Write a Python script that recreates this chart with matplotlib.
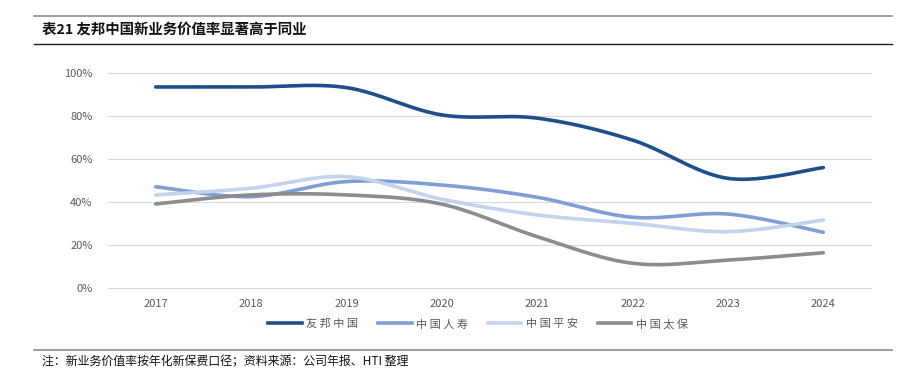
import numpy as np
import matplotlib
matplotlib.use("Agg")
import matplotlib.pyplot as plt
from matplotlib.lines import Line2D

plt.rcParams['font.family'] = ['Noto Sans CJK SC', 'DejaVu Sans']

years = ["2017", "2018", "2019", "2020", "2021", "2022", "2023", "2024"]
aia = [93.5, 93.5, 93.2, 80.5, 79.0, 68.8, 51.0, 56.0]
china_life = [47.1, 42.5, 49.5, 47.9, 42.2, 32.9, 34.4, 25.9]
ping_an = [43.3, 46.4, 51.8, 41.3, 34.0, 30.1, 26.2, 31.6]
cpic = [39.1, 43.3, 43.3, 39.0, 23.9, 11.5, 13.0, 16.4]

names = ["友邦中国", "中国人寿", "中国平安", "中国太保"]
colors = ["#1F4E8C", "#7F9ED6", "#C3D3EC", "#8C8C8C"]


def smooth(y, n=40):
    # Excel-style smoothed line: cubic Bezier with Catmull-Rom control points
    y = np.asarray(y, dtype=float)
    x = np.arange(len(y), dtype=float)
    pts = np.column_stack([x, y])
    out = []
    for i in range(len(pts) - 1):
        p0 = pts[max(i - 1, 0)]
        p1 = pts[i]
        p2 = pts[i + 1]
        p3 = pts[min(i + 2, len(pts) - 1)]
        c1 = p1 + (p2 - p0) / 6
        c2 = p2 - (p3 - p1) / 6
        t = np.linspace(0, 1, n)[:, None]
        seg = ((1 - t) ** 3) * p1 + 3 * ((1 - t) ** 2) * t * c1 + 3 * (1 - t) * t ** 2 * c2 + t ** 3 * p2
        out.append(seg if i == 0 else seg[1:])
    out = np.vstack(out)
    return out[:, 0], out[:, 1]


fig = plt.figure(figsize=(9.07, 3.75), dpi=100)
W, H = 907, 375

ax = fig.add_axes([108 / W, 1 - 288 / H, (871 - 108) / W, (288 - 73) / H])
for vals, c, name in zip([aia, china_life, ping_an, cpic], colors, names):
    xs, ys = smooth(vals)
    ax.plot(xs, ys, color=c, lw=2.6, solid_capstyle='round', label=name, zorder=3)

ax.set_xlim(-0.5, len(years) - 0.5)
ax.set_ylim(0, 100)
ax.set_yticks(np.arange(0, 101, 20))
ax.set_yticklabels([f"{v}%" for v in range(0, 101, 20)])
ax.set_xticks(range(len(years)))
ax.set_xticklabels(years)
ax.tick_params(length=0, labelsize=8, labelcolor="#595959")
ax.tick_params(axis='y', pad=11)
ax.tick_params(axis='x', pad=8)
ax.grid(axis='y', color="#D9D9D9", lw=0.8)
for g in ax.get_ygridlines():
    g.set_clip_on(False)
for s in ax.spines.values():
    s.set_visible(False)
ax.set_axisbelow(True)

handles = [Line2D([0], [0], color=c, lw=2.6) for c in colors]
leg = fig.legend(handles, [" ".join(n) for n in names], loc='center',
                 bbox_to_anchor=(478 / W, 1 - 324 / H),
                 ncol=4, frameon=False, fontsize=8, handlelength=3.0,
                 columnspacing=1.8, handletextpad=0.4)
for t in leg.get_texts():
    t.set_color("#595959")

# header and footer rules
fig.add_artist(Line2D([34 / W, 892 / W], [1 - 16 / H] * 2, color="#8C8C8C", lw=1.2))
fig.add_artist(Line2D([34 / W, 892 / W], [1 - 44 / H] * 2, color="#222222", lw=1.0))
fig.add_artist(Line2D([34 / W, 892 / W], [1 - 350 / H] * 2, color="#8C8C8C", lw=1.2))

fig.text(42 / W, 1 - 30 / H, "表21 友邦中国新业务价值率显著高于同业", fontsize=10.4,
         fontweight='bold', va='center', ha='left', color="#111111")
fig.text(42 / W, 1 - 362 / H, "注：新业务价值率按年化新保费口径；资料来源：公司年报、HTI 整理",
         fontsize=8.6, va='center', ha='left', color="#111111")

fig.savefig("out.png", dpi=100)
